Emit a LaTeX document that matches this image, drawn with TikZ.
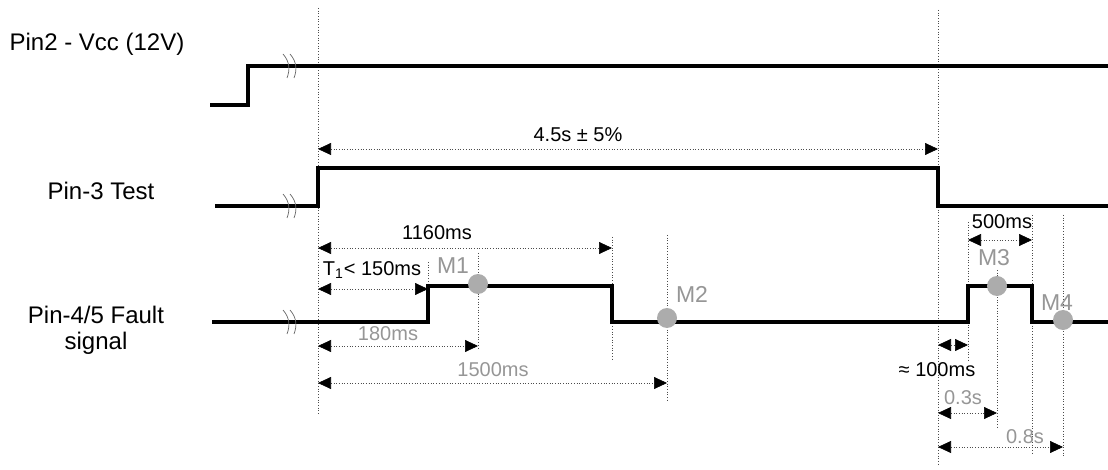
\documentclass[tikz,border=0pt]{standalone}
\usepackage{fontspec}
\setmainfont{Liberation Sans}
\usetikzlibrary{arrows.meta}
\definecolor{lblgrey}{RGB}{150,150,150}
\definecolor{dotgrey}{RGB}{172,172,172}
\tikzset{
  sig/.style={line width=2pt},
  guide/.style={densely dotted, line width=0.35pt, black!70},
  dim/.style={densely dotted, line width=0.35pt, black!70,
    {Triangle[length=6.5pt,width=6pt,black]}-{Triangle[length=6.5pt,width=6pt,black]}},
  brk/.style={line width=0.35pt, black!60},
  pinlbl/.style={font=\fontsize{12}{13}\selectfont, align=center},
  dimlbl/.style={font=\fontsize{10}{12}\selectfont},
  mlbl/.style={font=\fontsize{11.5}{13}\selectfont, text=lblgrey},
  mdot/.style={circle, fill=dotgrey, inner sep=0pt, minimum size=10pt}
}
\begin{document}
\begin{tikzpicture}[x=0.5pt,y=-0.5pt]
  \useasboundingbox (0,0) rectangle (1108,470);
  \foreach \n/\x in {t0/318, t1/428, m1/478, t2/612, m2/667, t3/938, t4/968, m3/997, t5/1032, m4/1063}
    \coordinate (\n) at (\x,0);

  \node[pinlbl] (vcc) at (97,44) {Pin2 - Vcc (12V)};
  \node[pinlbl] (test) at (101,191) {Pin-3 Test};
  \node[pinlbl] (fault) at (96,330) {Pin-4/5 Fault\\signal};

  % guide lines
  \foreach \n/\a/\b in {t0/8/415, t1/262/286, m1/253/350, t2/237/360, m2/235/400,
                        t3/10/465, t4/222/360, m3/270/428, t5/215/455, m4/215/457}
    \draw[guide] (\n |- 0,\a) -- (\n |- 0,\b);

  % signals
  \draw[sig] (210,105) -- (248,105) -- (248,66) -- (1108,66);
  \draw[sig] (215,206) -- (t0 |- 0,206) -- (t0 |- 0,168) -- (t3 |- 0,168) -- (t3 |- 0,206) -- (1108,206);
  \draw[sig] (212,322) -- (t1 |- 0,322) -- (t1 |- 0,286) -- (t2 |- 0,286) -- (t2 |- 0,322)
    -- (t4 |- 0,322) -- (t4 |- 0,286) -- (t5 |- 0,286) -- (t5 |- 0,322) -- (1108,322);
  \foreach \y in {66,206,322}{
    \foreach \x in {286,293}{
      \draw[brk] (\x-3,\y-12) .. controls (\x+4,\y-4) and (\x+4,\y+4) .. (\x+1,\y+12);
    }
  }

  % dimensions
  \draw[dim] (t0 |- 0,149) -- (t3 |- 0,149);
  \draw[dim] (t0 |- 0,248) -- (t2 |- 0,248);
  \draw[dim] (t0 |- 0,289) -- (t1 |- 0,289);
  \draw[dim] (t0 |- 0,346) -- (m1 |- 0,346);
  \draw[dim] (t0 |- 0,383) -- (m2 |- 0,383);
  \draw[dim] (t4 |- 0,240) -- (t5 |- 0,240);
  \draw[dim] (t3 |- 0,345) -- (t4 |- 0,345);
  \draw[dim] (t3 |- 0,413) -- (m3 |- 0,413);
  \draw[dim] (t3 |- 0,447) -- (m4 |- 0,447);

  \node[dimlbl] (d45) at (578,135) {4.5s ± 5\%};
  \node[dimlbl] (d1160) at (437,233) {1160ms};
  \node[dimlbl] (dT1) at (372,270) {T\textsubscript{1}< 150ms};
  \node[dimlbl, text=lblgrey] (d180) at (388,334) {180ms};
  \node[dimlbl, text=lblgrey] (d1500) at (493,370) {1500ms};
  \node[dimlbl] (d500) at (1002,222) {500ms};
  \node[dimlbl] (d100) at (937,370) {≈ 100ms};
  \node[dimlbl, text=lblgrey] (d03) at (963,398) {0.3s};
  \node[dimlbl, text=lblgrey] (d08) at (1025,437) {0.8s};

  % measuring points
  \node[mdot] (p1) at (m1 |- 0,284) {};
  \node[mdot] (p2) at (m2 |- 0,318) {};
  \node[mdot] (p3) at (m3 |- 0,286) {};
  \node[mdot] (p4) at (m4 |- 0,320) {};
  \node[mlbl] (l1) at (453,266) {M1};
  \node[mlbl] (l2) at (692,294) {M2};
  \node[mlbl] (l3) at (994,258) {M3};
  \node[mlbl] (l4) at (1057,303) {M4};
\end{tikzpicture}
\end{document}
